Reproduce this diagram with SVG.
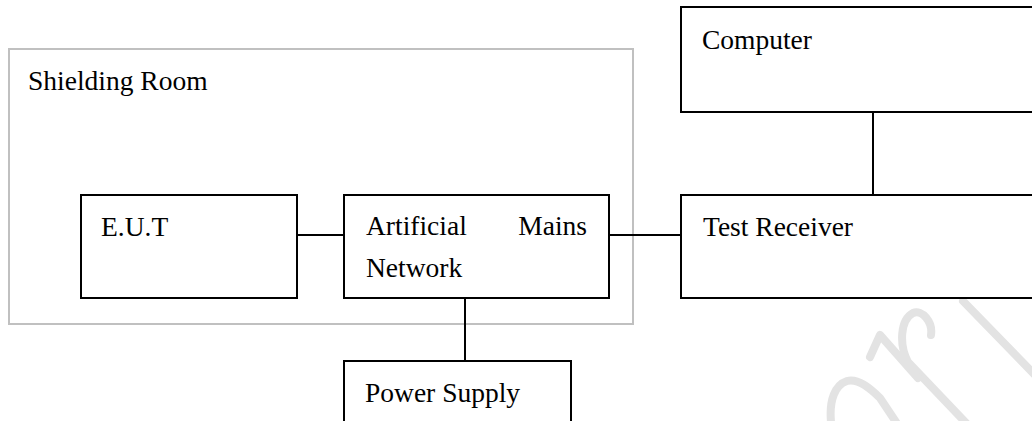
<svg xmlns="http://www.w3.org/2000/svg" width="1032" height="421" viewBox="0 0 1032 421">
  <style>
    .box { fill: #ffffff; stroke: #000000; stroke-width: 2; }
    .room { fill: none; stroke: #c0c0c0; stroke-width: 2; }
    .lbl { font-family: 'Liberation Serif', 'DejaVu Serif', serif; font-size: 27.5px; fill: #000000; }
    .wire { stroke: #000000; stroke-width: 2; fill: none; }
    .wm { stroke: #e3e3e3; stroke-width: 8; fill: none; stroke-linecap: round; stroke-linejoin: round; }
  </style>
  <rect width="1032" height="421" fill="#ffffff"/>

  <g id="watermark">
    <path class="wm" d="M 963 301 L 1036 376"/>
    <path class="wm" d="M 931 335 C 933 322 922 309 913 313 C 900 320 899 345 908 362 L 968 425"/>
    <path class="wm" d="M 870 357 L 880 335 L 918 378"/>
    <path class="wm" d="M 831 422 C 829 400 835 385 847 381 C 858 378 870 388 880 398 L 896 422"/>
  </g>

  <g id="shielding-room">
    <rect class="room" x="9" y="49" width="624" height="275"/>
    <text class="lbl" x="28" y="90" font-family="Liberation Serif, serif">Shielding Room</text>
  </g>

  <g id="connectors">
    <line class="wire" x1="297" y1="235" x2="344" y2="235"/>
    <line class="wire" x1="609" y1="235" x2="681" y2="235"/>
    <line class="wire" x1="873" y1="112" x2="873" y2="195"/>
    <line class="wire" x1="465" y1="298" x2="465" y2="361"/>
  </g>

  <g id="eut">
    <rect class="box" x="81" y="195" width="216" height="103"/>
    <text class="lbl" x="101" y="236">E.U.T</text>
  </g>

  <g id="amn">
    <rect class="box" x="344" y="195" width="265" height="103"/>
    <text class="lbl" x="366" y="235">Artificial</text>
    <text class="lbl" x="587" y="235" text-anchor="end">Mains</text>
    <text class="lbl" x="366" y="277">Network</text>
  </g>

  <g id="test-receiver">
    <rect class="box" x="681" y="195" width="360" height="103"/>
    <text class="lbl" x="703" y="236">Test Receiver</text>
  </g>

  <g id="computer">
    <rect class="box" x="681" y="7" width="360" height="105"/>
    <text class="lbl" x="702" y="49">Computer</text>
  </g>

  <g id="power-supply">
    <rect class="box" x="344" y="361" width="227" height="70"/>
    <text class="lbl" x="365" y="402">Power Supply</text>
  </g>
</svg>
